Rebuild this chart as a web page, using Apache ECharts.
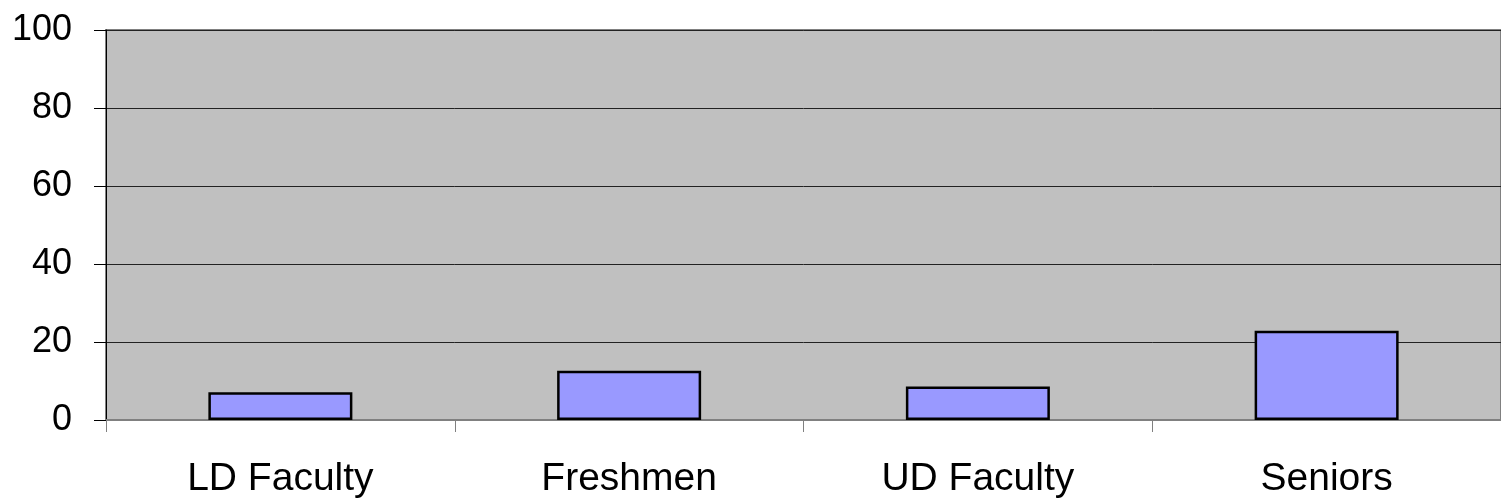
<!DOCTYPE html>
<html>

<head>
    <meta charset="utf-8" />
    <script src="https://cdn.jsdelivr.net/npm/echarts@6/dist/echarts.min.js"></script>
    <style>
        html, body { margin: 0; padding: 0; background: #fff; }
    </style>
</head>

<body>
    <div id="main" style="width: 1501px; height: 503px;"></div>
    <script type="text/javascript">
        // data
        var groups = ['LD Faculty', 'Freshmen', 'UD Faculty', 'Seniors'];
        var values = [7.1, 12.6, 8.6, 22.9];
        var yMin = 0, yMax = 100, yStep = 20;

        var myChart = echarts.init(document.getElementById('main'));

        var option = {
            animation: false,
            textStyle: { fontFamily: 'Liberation Sans, Arial, sans-serif' },
            grid: {
                left: 106,
                right: 0,
                top: 30,
                bottom: 83,
                show: true,
                backgroundColor: '#C0C0C0',
                borderColor: '#808080',
                borderWidth: 2
            },
            xAxis: {
                type: 'category',
                data: groups,
                axisLine: { lineStyle: { color: '#808080', width: 2 } },
                axisTick: { show: true, length: 12, lineStyle: { color: '#808080', width: 1 } },
                axisLabel: { color: '#000', fontSize: 39, margin: 40 },
                splitLine: { show: false }
            },
            yAxis: {
                type: 'value',
                min: yMin,
                max: yMax,
                interval: yStep,
                axisLine: { show: true, lineStyle: { color: '#000', width: 1 } },
                axisTick: { show: true, length: 12, lineStyle: { color: '#000', width: 1 } },
                axisLabel: { color: '#000', fontSize: 36, margin: 34 },
                splitLine: { show: true, lineStyle: { color: '#222', width: 1 } }
            },
            series: [
                {
                    type: 'bar',
                    data: values,
                    barWidth: 144,
                    itemStyle: {
                        color: '#9999FF',
                        borderColor: '#000',
                        borderWidth: 2.5
                    }
                }
            ]
        };

        myChart.setOption(option);
    </script>
</body>

</html>
